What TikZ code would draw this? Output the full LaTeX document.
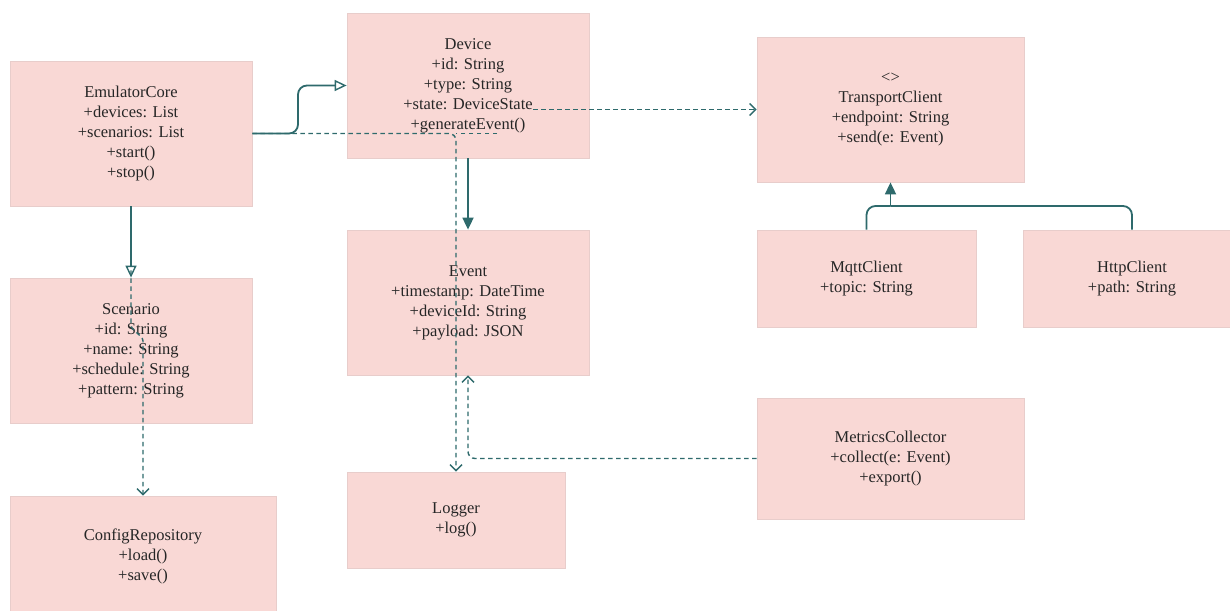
\documentclass[tikz,border=0pt]{standalone}
\usepackage{fontspec}
\setmainfont{Liberation Serif}
\usetikzlibrary{arrows.meta}
\definecolor{boxfill}{HTML}{F9D8D5}
\definecolor{boxline}{HTML}{E8CDCB}
\definecolor{linkcol}{HTML}{2E6A6C}
\definecolor{txtcol}{HTML}{262626}
\begin{document}
\begin{tikzpicture}[x=1pt,y=-1pt,
  cls/.style={draw=boxline, line width=0.8pt, fill=boxfill, inner sep=0pt,
    align=center, text=txtcol, font=\fontsize{16.5}{20}\selectfont},
  solidlink/.style={draw=linkcol, line width=1.8pt, rounded corners=9pt},
  deplink/.style={draw=linkcol, line width=1.4pt, dash pattern=on 4.5pt off 3.5pt, rounded corners=7pt},
  opentri/.style={-{Triangle[open, length=12pt, width=11pt, line width=1.4pt]}},
  filltri/.style={-{Triangle[length=12pt, width=11pt]}},
  barb/.style={-{Straight Barb[length=6pt, width=12pt, line width=1.4pt]}}]
\path[use as bounding box, clip] (0,0) rectangle (1230,610);
\fill[white] (0,0) rectangle (1230,610);

% class boxes
\node[cls, minimum width=242pt, minimum height=145pt] (core) at (131,133.5)
  {EmulatorCore\\+devices: List\\+scenarios: List\\+start()\\+stop()};
\node[cls, minimum width=242pt, minimum height=145pt] (device) at (468,85.5)
  {Device\\+id: String\\+type: String\\+state: DeviceState\\+generateEvent()};
\node[cls, minimum width=267pt, minimum height=145pt] (transport) at (890.5,109.5)
  {<>\\TransportClient\\+endpoint: String\\+send(e: Event)};
\node[cls, minimum width=219pt, minimum height=97pt] (mqtt) at (866.5,278.5)
  {MqttClient\\+topic: String};
\node[cls, minimum width=218pt, minimum height=97pt] (http) at (1132,278.5)
  {HttpClient\\+path: String};
\node[cls, minimum width=242pt, minimum height=145pt] (scenario) at (131,350.5)
  {Scenario\\+id: String\\+name: String\\+schedule: String\\+pattern: String};
\node[cls, minimum width=242pt, minimum height=145pt] (event) at (468,302.5)
  {Event\\+timestamp: DateTime\\+deviceId: String\\+payload: JSON};
\node[cls, minimum width=267pt, minimum height=121pt] (metrics) at (890.5,458.5)
  {MetricsCollector\\+collect(e: Event)\\+export()};
\node[cls, minimum width=266pt, minimum height=120pt] (config) at (143,556)
  {ConfigRepository\\+load()\\+save()};
\node[cls, minimum width=218pt, minimum height=96pt] (logger) at (456,520)
  {Logger\\+log()};

% helper points for routing
\coordinate (stateout) at (533,109.5);
\coordinate (tailend) at (497,133.5);
\coordinate (loggerbend) at (456,133.5);
\coordinate (hub) at (890.5,206);

% dependencies (dashed)
\draw[deplink, barb] (core.east) -- (loggerbend) -- (logger.north);
\draw[deplink] (tailend) -- (loggerbend);
\draw[deplink, barb] (core.south) -- (131,318) to[out=-90,in=90] (143,348) -- (config.north);
\draw[deplink, barb] (stateout) -- (transport.west);
\draw[deplink, barb] (metrics.west) -| (event.south);

% associations and inheritance (solid)
\draw[solidlink, opentri] (core.east) -| (298,85.5) -- (device.west);
\draw[solidlink, opentri] (core.south) -- (scenario.north);
\draw[solidlink, filltri] (device.south) -- (event.north);
\draw[solidlink] (mqtt.north) |- (hub);
\draw[solidlink] (http.north) |- (hub);
\draw[solidlink, filltri, rounded corners=0pt] (hub) -- (transport.south);
\end{tikzpicture}
\end{document}
